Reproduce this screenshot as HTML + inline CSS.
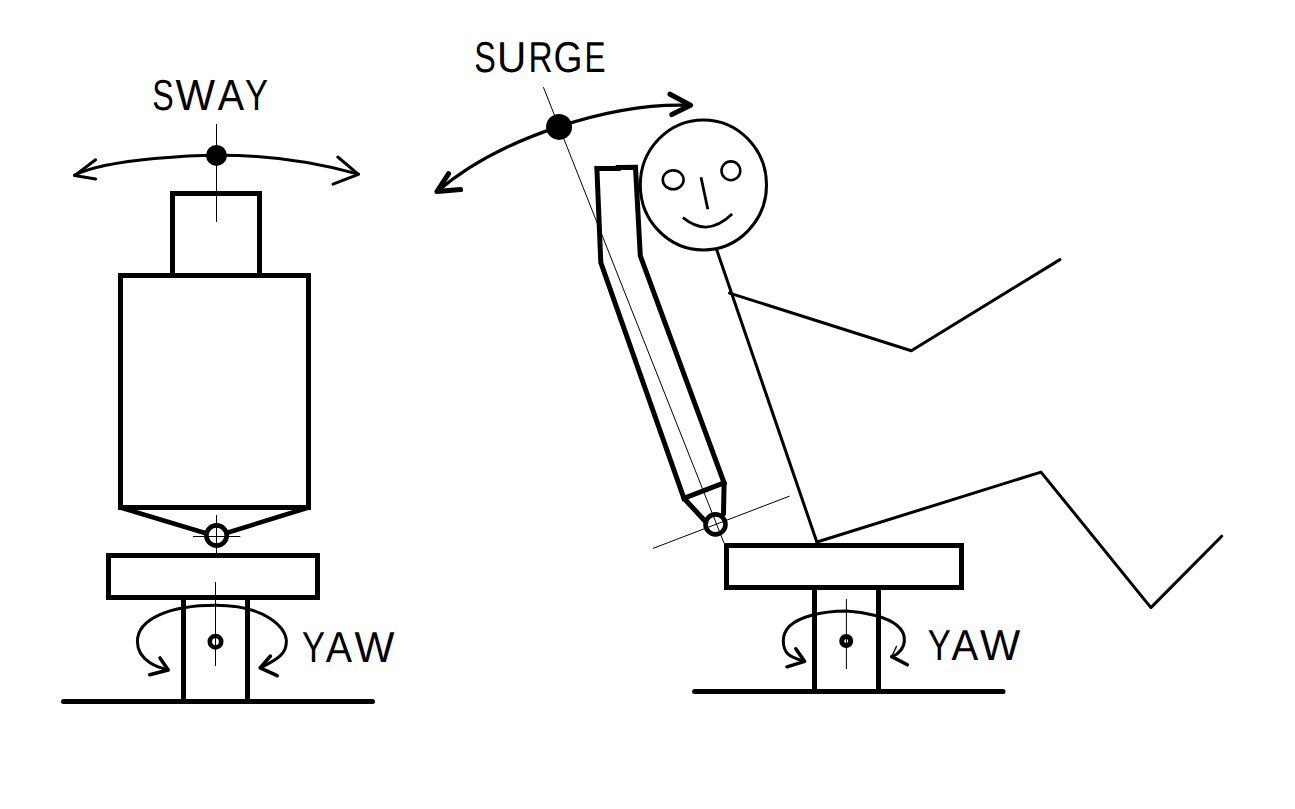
<!DOCTYPE html>
<html>
<head>
<meta charset="utf-8">
<style>
html,body{margin:0;padding:0;background:#fff;}
body{width:1295px;height:809px;overflow:hidden;}
svg{display:block;}
text{font-family:"Liberation Sans",sans-serif;fill:#000;text-rendering:geometricPrecision;}
</style>
</head>
<body>
<svg width="1295" height="809" viewBox="0 0 1295 809">
<rect x="0" y="0" width="1295" height="809" fill="#fff"/>
<g fill="none" stroke="#000" stroke-linecap="round" stroke-linejoin="round">

<!-- ===== LEFT FIGURE ===== -->
<!-- sway curve -->
<path d="M74.6,175.1 C110.5,157.5 204.2,155.2 216.7,155.2 Q288,154.6 358.4,174.1" stroke-width="3"/>
<path d="M95.6,159.8 L74.6,175.6 L95.6,178.9" stroke-width="3"/>
<path d="M337.8,157 L358.4,174.3 L333,184.2" stroke-width="3"/>
<!-- thin axis -->
<line x1="216.5" y1="124" x2="216.5" y2="222" stroke-width="1" stroke-linecap="butt"/>
<!-- small rect -->
<rect x="172.5" y="193.5" width="87" height="82" stroke-width="5" stroke-linejoin="miter"/>
<!-- big rect -->
<rect x="120.5" y="275.5" width="188" height="232" stroke-width="5" stroke-linejoin="miter"/>
<!-- funnel -->
<path d="M120.5,507.5 L205,533" stroke-width="4.6"/>
<path d="M308.5,507.5 L228,532.5" stroke-width="4.6"/>
<!-- pivot crosshair -->
<line x1="193" y1="536.5" x2="240.3" y2="536.5" stroke-width="1" stroke-linecap="butt"/>
<line x1="216.5" y1="515" x2="216.5" y2="553" stroke-width="1" stroke-linecap="butt"/>
<circle cx="216.55" cy="535.5" r="10.15" stroke-width="4.7"/>
<!-- lower rect -->
<rect x="108.5" y="555.5" width="209" height="42" stroke-width="5" stroke-linejoin="miter"/>
<!-- post -->
<line x1="183.5" y1="598" x2="183.5" y2="701" stroke-width="5" stroke-linecap="butt"/>
<line x1="247.5" y1="598" x2="247.5" y2="701" stroke-width="5" stroke-linecap="butt"/>
<!-- ground -->
<line x1="63.5" y1="701.5" x2="372.5" y2="701.5" stroke-width="5"/>
<!-- yaw axis -->
<line x1="215.5" y1="582" x2="215.5" y2="666" stroke-width="1" stroke-linecap="butt"/>
<circle cx="215.5" cy="641.7" r="5.7" stroke-width="4.6"/>
<!-- yaw arc -->
<path d="M168.1,669.7 C159.6,667.9 137.4,661.5 137.4,641.5 C137.4,618.9 169.9,605.2 215.5,605.2 C264.5,605.2 286.4,627.0 286.4,641.5 C286.4,655.0 275.9,659.7 260.9,667.8" stroke-width="3"/>
<path d="M160,657.9 L168.2,670 L149.7,674.8" stroke-width="3.5"/>
<path d="M270.5,656 L260.1,667.8 L277.2,675.7" stroke-width="3.5"/>

<!-- ===== RIGHT FIGURE ===== -->
<!-- surge curve -->
<path d="M436.6,192.1 C500.8,136.3 614.3,102.2 690.6,105.4" stroke-width="3.2"/>
<path d="M448.6,173.6 L437,191.6 L460.6,189.6" stroke-width="5"/>
<path d="M670,94.2 L690.6,105.3 L671.8,114.6" stroke-width="5"/>
<!-- axis -->
<line x1="543.4" y1="87.2" x2="724" y2="543" stroke-width="1" stroke-linecap="butt"/>
<line x1="653" y1="548.4" x2="789.6" y2="496.1" stroke-width="1" stroke-linecap="butt"/>
<!-- head -->
<ellipse cx="703.4" cy="184.9" rx="63.1" ry="65" stroke-width="3"/>
<ellipse cx="673.2" cy="179.8" rx="10.4" ry="9.4" stroke-width="2.6"/>
<ellipse cx="730.9" cy="170.8" rx="9.4" ry="9.4" stroke-width="2.6"/>
<path d="M701,177.3 L707.8,209.2" stroke-width="2.8" stroke-linecap="butt"/>
<path d="M682.9,217.6 C698.2,229.7 713.5,231.9 732.1,214.1" stroke-width="2.8" stroke-linecap="butt"/>
<!-- chair back -->
<path d="M596.9,168.6 L618.2,168.4 L618.2,167.4 L635.5,167.3 L640.3,255.8 L724.1,482.9 L683.9,498.3 L600.8,262.6 Z" stroke-width="5" stroke-linejoin="miter" stroke-miterlimit="3"/>
<path d="M683.9,498.3 L704.5,520.5" stroke-width="5"/>
<path d="M724.1,482.9 L723.5,514" stroke-width="5"/>
<circle cx="715.5" cy="524.4" r="10" stroke-width="4.6"/>
<!-- torso, arm, leg -->
<path d="M716.8,250.1 L817,542.5" stroke-width="3"/>
<path d="M729.5,293.1 L911.3,350.8 L1059.9,259.6" stroke-width="3"/>
<path d="M817,542 L1041,472.1 L1150.9,607.6 L1221.7,536.2" stroke-width="3"/>
<!-- seat -->
<rect x="726.5" y="545.5" width="235" height="42" stroke-width="5" stroke-linejoin="miter"/>
<!-- post -->
<line x1="814.5" y1="588" x2="814.5" y2="691" stroke-width="5" stroke-linecap="butt"/>
<line x1="878.5" y1="588" x2="878.5" y2="691" stroke-width="5" stroke-linecap="butt"/>
<!-- ground -->
<line x1="694.6" y1="691.5" x2="1003" y2="691.5" stroke-width="5"/>
<!-- yaw -->
<line x1="846.4" y1="599" x2="846.4" y2="669" stroke-width="1" stroke-linecap="butt"/>
<circle cx="846.2" cy="641" r="4.5" stroke-width="5"/>
<path d="M803.7,661.2 C791.7,657.1 783.3,655.3 783.3,640.8 C783.3,613.1 835.6,611.1 846.5,611.1 C846.5,611.1 904.4,613.4 904.4,639.9 C904.4,647.7 898.7,654.0 891.9,657.0" stroke-width="3"/>
<path d="M795.8,648.8 L804.7,661.4 L787,666.8" stroke-width="3.5"/>
<path d="M896.5,646.4 L891.7,656.6" stroke-width="1.3"/><path d="M891.7,656.6 L907.4,664.8" stroke-width="3.5"/>
</g>
<!-- dots -->
<circle cx="216.5" cy="155.4" r="10.5" fill="#000"/>
<circle cx="559.05" cy="126.9" r="13" fill="#000"/>

<!-- texts -->
<text transform="translate(152.24,109.80) scale(0.739,1)" font-size="43.46">S</text>
<text transform="translate(175.52,109.80) scale(0.964,1)" font-size="43.46">W</text>
<text transform="translate(217.82,109.80) scale(0.909,1)" font-size="43.46">A</text>
<text transform="translate(245.04,109.80) scale(0.794,1)" font-size="43.46">Y</text>
<text transform="translate(474.33,71.90) scale(0.748,1)" font-size="43.17">S</text>
<text transform="translate(496.98,71.90) scale(0.938,1)" font-size="43.17">U</text>
<text transform="translate(528.45,71.90) scale(0.776,1)" font-size="43.17">R</text>
<text transform="translate(553.53,71.90) scale(0.862,1)" font-size="43.17">G</text>
<text transform="translate(584.41,71.90) scale(0.731,1)" font-size="43.17">E</text>
<text transform="translate(302.04,661.70) scale(0.797,1)" font-size="43.31">Y</text>
<text transform="translate(325.82,661.70) scale(0.909,1)" font-size="43.31">A</text>
<text transform="translate(354.41,661.70) scale(0.977,1)" font-size="43.31">W</text>
<text transform="translate(927.84,659.90) scale(0.800,1)" font-size="43.31">Y</text>
<text transform="translate(951.62,659.90) scale(0.926,1)" font-size="43.31">A</text>
<text transform="translate(980.11,659.90) scale(0.984,1)" font-size="43.31">W</text>
</svg>
</body>
</html>
